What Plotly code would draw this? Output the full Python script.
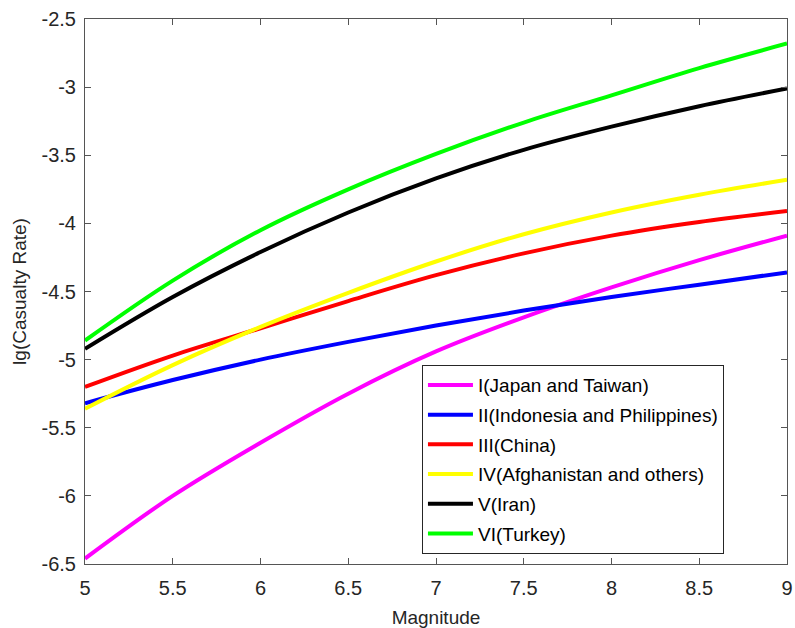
import plotly.graph_objects as go

magnitude = [5.0, 5.5, 6.0, 6.5, 7.0, 7.5, 8.0, 8.5, 9.0]

japan_taiwan = [-6.46, -6.00, -5.61, -5.25, -4.94, -4.69, -4.47, -4.27, -4.09]
indonesia_philippines = [-5.32, -5.15, -5.00, -4.87, -4.75, -4.64, -4.54, -4.45, -4.36]
china = [-5.20, -4.97, -4.77, -4.57, -4.38, -4.22, -4.09, -3.99, -3.91]
afghanistan_others = [-5.36, -5.04, -4.76, -4.51, -4.28, -4.08, -3.92, -3.79, -3.68]
iran = [-4.92, -4.54, -4.21, -3.92, -3.67, -3.46, -3.29, -3.14, -3.01]
turkey = [-4.86, -4.42, -4.05, -3.75, -3.49, -3.26, -3.06, -2.86, -2.68]

series_names = ["I(Japan and Taiwan)", "II(Indonesia and Philippines)", "III(China)",
                "IV(Afghanistan and others)", "V(Iran)", "VI(Turkey)"]
series_colors = ["#FF00FF", "#0000FF", "#FF0000", "#FFFF00", "#000000", "#00FF00"]

x_tick_vals = [5, 5.5, 6, 6.5, 7, 7.5, 8, 8.5, 9]
x_tick_text = ["5", "5.5", "6", "6.5", "7", "7.5", "8", "8.5", "9"]
y_tick_vals = [-6.5, -6, -5.5, -5, -4.5, -4, -3.5, -3, -2.5]
y_tick_text = ["-6.5", "-6", "-5.5", "-5", "-4.5", "-4", "-3.5", "-3", "-2.5"]

FONT = "Arial, Liberation Sans, Helvetica, sans-serif"

fig = go.Figure()
all_series = [japan_taiwan, indonesia_philippines, china, afghanistan_others, iran, turkey]
for i, (name, color, ys) in enumerate(zip(series_names, series_colors, all_series)):
    fig.add_trace(go.Scatter(
        x=magnitude, y=ys, name=name, mode="lines",
        line=dict(color=color, width=4, shape="spline", smoothing=1.0),
        legendgroup=f"g{i}",
    ))

axis_common = dict(
    showline=True, linecolor="#555555", linewidth=1, mirror="ticks",
    ticks="inside", ticklen=6, tickcolor="#555555", tickwidth=1,
    showgrid=False, zeroline=False,
    tickfont=dict(family=FONT, size=20, color="#262626"),
    ticklabeloverflow="allow",
)

fig.update_layout(
    width=795, height=628,
    margin=dict(l=85, r=8, t=19, b=64, autoexpand=False),
    paper_bgcolor="white", plot_bgcolor="white",
    font=dict(family=FONT, color="#262626"),
    xaxis=dict(range=[5, 9], tickvals=x_tick_vals, ticktext=x_tick_text,
               ticklabelstandoff=6,
               title=dict(text="Magnitude", font=dict(family=FONT, size=19, color="#262626"), standoff=12),
               **axis_common),
    yaxis=dict(range=[-6.5, -2.5], tickvals=y_tick_vals, ticktext=y_tick_text,
               ticklabelstandoff=4,
               title=dict(text="lg(Casualty Rate)", font=dict(family=FONT, size=19, color="#262626"), standoff=9),
               **axis_common),
    legend=dict(
        x=0.48, y=0.365, xanchor="left", yanchor="top",
        bgcolor="white", bordercolor="#262626", borderwidth=1,
        font=dict(family=FONT, size=19, color="#000000"),
        traceorder="grouped", tracegroupgap=2, itemwidth=45,
    ),
    showlegend=True,
)

fig.write_html("out.html", config={"displayModeBar": False},
               post_script="document.body.style.margin='0';")
